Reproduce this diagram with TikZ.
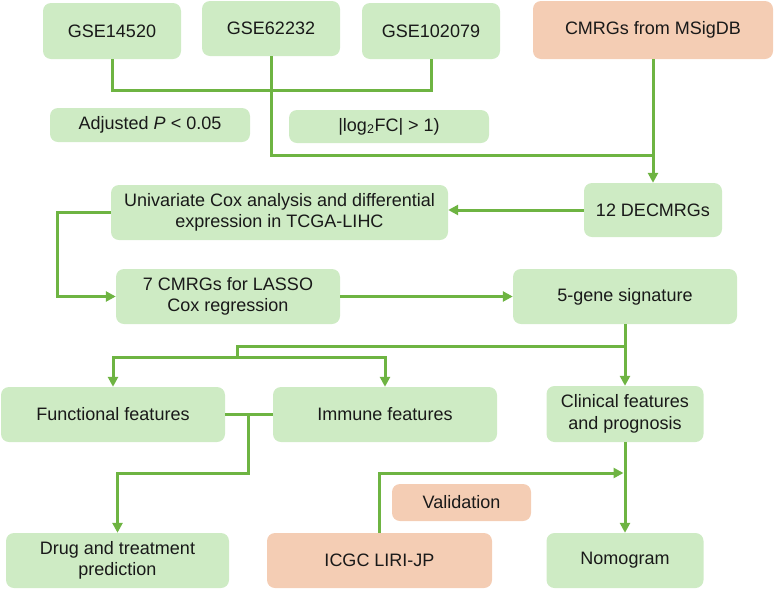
\documentclass[tikz,border=0pt]{standalone}
\usepackage{fontspec}
\setmainfont{Liberation Sans}
\usetikzlibrary{arrows.meta}
\definecolor{boxgreen}{RGB}{206,235,196}
\definecolor{boxorange}{RGB}{244,205,180}
\definecolor{linegreen}{RGB}{110,180,66}
\definecolor{txt}{RGB}{25,25,25}
\begin{document}
\begin{tikzpicture}[x=1pt,y=-1pt,
  gbox/.style={rounded corners=8pt, fill=boxgreen, draw=none, align=center, inner sep=0pt,
    text=txt, font=\fontsize{18}{21.6}\selectfont},
  obox/.style={gbox, fill=boxorange},
  conn/.style={draw=linegreen, line width=3pt},
  arr/.style={conn, -{Triangle[length=10pt,width=10pt]}}]
\useasboundingbox (0,0) rectangle (774,590);
% nodes
\node[gbox, minimum width=138pt, minimum height=56pt] (g1) at (112,31) {GSE14520};
\node[gbox, minimum width=138pt, minimum height=55pt] (g2) at (271,28.5) {GSE62232};
\node[gbox, minimum width=138pt, minimum height=56pt] (g3) at (431,31) {GSE102079};
\node[obox, minimum width=240pt, minimum height=58pt] (cm) at (653,30) {CMRGs from MSigDB};
\node[gbox, minimum width=200pt, minimum height=34pt] (adj) at (150,125) {Adjusted \textit{P} < 0.05};
\node[gbox, minimum width=200pt, minimum height=33pt] (lfc) at (389,126.5) {|log\textsubscript{2}FC| > 1)};
\node[gbox, minimum width=138pt, minimum height=54pt] (dec) at (653,210) {12 DECMRGs};
\node[gbox, minimum width=337pt, minimum height=55pt] (uni) at (279.5,212.5) {Univariate Cox analysis and differential\\expression in TCGA-LIHC};
\node[gbox, minimum width=224pt, minimum height=55pt] (c7) at (228,296.5) {7 CMRGs for LASSO\\Cox regression};
\node[gbox, minimum width=224pt, minimum height=55pt] (sig) at (625,296.5) {5-gene signature};
\node[gbox, minimum width=224pt, minimum height=55pt] (fun) at (113,414.5) {Functional features};
\node[gbox, minimum width=224pt, minimum height=55pt] (imm) at (385,414.5) {Immune features};
\node[gbox, minimum width=157pt, minimum height=56pt] (cli) at (625,414) {Clinical features\\and prognosis};
\node[gbox, minimum width=223pt, minimum height=55pt] (drug) at (117.5,560.5) {Drug and treatment\\prediction};
\node[obox, minimum width=225pt, minimum height=55pt] (icgc) at (379.5,560.5) {ICGC LIRI-JP};
\node[obox, minimum width=139pt, minimum height=37pt] (val) at (461.5,502.5) {Validation};
\node[gbox, minimum width=157pt, minimum height=55pt] (nom) at (625,560.5) {Nomogram};
% junction coordinates
\coordinate (j1) at (112,90);
\coordinate (j2) at (653,155);
\coordinate (b1) at (625,346);
\coordinate (b2) at (237,357);
\coordinate (b3) at (248,414.5);
\coordinate (b5) at (248,473);
\coordinate (b4) at (625,473);
\coordinate (k1) at (57,212.5);
% connectors
\draw[conn] (g1.south) -- (j1) -| (g3.south);
\draw[conn] (g2.south) |- (j2);
\draw[arr] (cm.south) -- (dec.north);
\draw[arr] (dec.west) -- (dec.west -| uni.east);
\draw[arr] (uni.west) -- (k1) |- (c7.west);
\draw[arr] (c7.east) -- (sig.west);
\draw[arr] (sig.south) -- (cli.north);
\draw[conn] (b1) -| (b2);
\draw[arr] (b2) -| (fun.north);
\draw[arr] (b2) -| (imm.north);
\draw[conn] (fun.east) -- (imm.west);
\draw[arr] (b3) -- (b5) -| (drug.north);
\draw[arr] (cli.south) -- (nom.north);
\draw[arr, shorten >=1.5pt] (icgc.north) |- (b4);
\end{tikzpicture}
\end{document}
